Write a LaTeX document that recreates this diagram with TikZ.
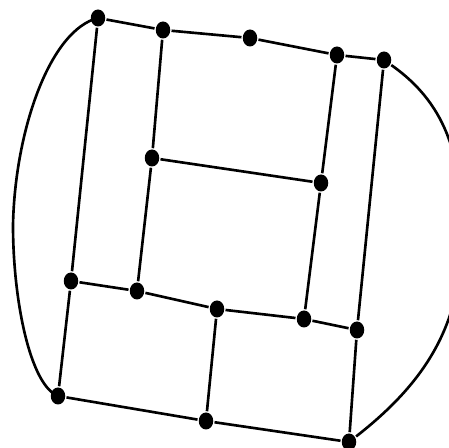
\documentclass[tikz,border=0pt]{standalone}
\usetikzlibrary{shapes.geometric}
\begin{document}
\begin{tikzpicture}[line width=1.5pt,
  vx/.style={ellipse, fill=black, minimum width=0.29cm, minimum height=0.34cm, inner sep=0pt}]
\useasboundingbox (0,0) rectangle (8.98,8.96);
\clip (0,0) rectangle (8.98,8.96);
% vertices
\foreach \n/\x/\y in {a/1.96/8.60, b/3.26/8.36, c/5.00/8.20, d/6.74/7.86, e/7.68/7.76,
  f/3.04/5.80, g/6.42/5.30,
  h/1.42/3.34, i/2.74/3.14, j/4.34/2.78, k/6.08/2.58, l/7.14/2.36,
  m/1.16/1.04, n/4.12/0.54, o/6.98/0.12}
  \node[vx] (\n) at (\x,\y) {};
\coordinate (lw) at (0.26,4.46);
\coordinate (rw) at (9.24,4.25);
% edges
\foreach \s/\t in {a/b, b/c, c/d, d/e, a/h, h/m, b/f, f/i, f/g, d/g, g/k, e/l, l/o,
  h/i, i/j, j/k, k/l, j/n, m/n, n/o}
  \draw (\s) -- (\t);
\draw (a.center) .. controls (1.0,8.36) and (0.30,6.36) .. (lw)
  .. controls (0.26,2.96) and (0.60,1.26) .. (m.center);
\draw (e) to[out=-35, in=90] (rw) to[out=-90, in=38] (o);
\end{tikzpicture}
\end{document}
